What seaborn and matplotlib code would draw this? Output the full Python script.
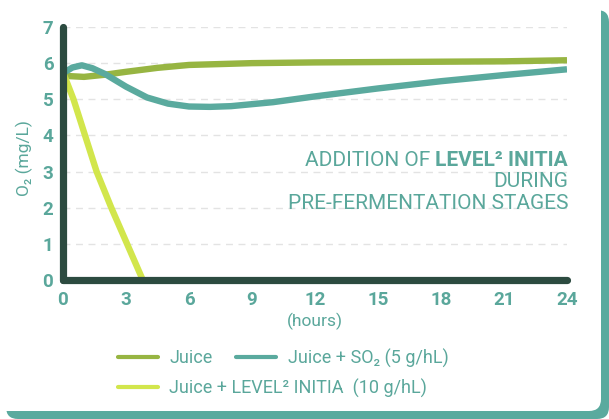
import numpy as np
import pandas as pd
import matplotlib
matplotlib.use("Agg")
import matplotlib.pyplot as plt
import matplotlib.transforms as mtransforms
from matplotlib.patches import FancyBboxPatch
from matplotlib.lines import Line2D
import seaborn as sns

# ---- data ----
juice_t = [0, 1, 2, 3, 4.5, 6, 9, 12, 15, 18, 21, 24]
juice_o2 = [5.65, 5.62, 5.68, 5.76, 5.87, 5.95, 6.0, 6.02, 6.03, 6.04, 6.05, 6.08]

so2_t = [0, 0.45, 0.9, 1.4, 2, 3, 4, 5, 6, 7, 8, 10, 12, 15, 18, 21, 24]
so2_o2 = [5.72, 5.88, 5.94, 5.86, 5.7, 5.35, 5.05, 4.88, 4.8, 4.79, 4.81, 4.92, 5.08, 5.3, 5.5, 5.67, 5.83]

initia_t = [0, 0.5, 1.05, 1.6, 2.3, 3.05, 3.8]
initia_o2 = [5.75, 5.0, 4.0, 3.0, 2.0, 1.0, 0.0]

x_ticks = [0, 3, 6, 9, 12, 15, 18, 21, 24]
y_ticks = [0, 1, 2, 3, 4, 5, 6, 7]

labels = ["Juice", "Juice + SO\u2082 (5 g/hL)", "Juice + LEVEL\u00b2 INITIA  (10 g/hL)"]

# ---- colours ----
olive = "#97b542"
teal = "#5aaa9e"
yellow = "#d2e64c"
dark = "#2c4b40"
txt = "#5aa79b"

sns.set_theme(style="white")
plt.rcParams["font.family"] = ["Roboto", "DejaVu Sans"]

fig = plt.figure(figsize=(6.09, 4.19), dpi=100)
fig.patch.set_facecolor("white")

# card with teal "shadow" on the right/bottom
ident = mtransforms.IdentityTransform()
fig.patches.append(FancyBboxPatch((6, 0), 603, 409, boxstyle="round,pad=0,rounding_size=12",
                                  transform=ident, facecolor=teal, edgecolor="none", zorder=-2))
fig.patches.append(FancyBboxPatch((-20, 8), 621, 431, boxstyle="round,pad=0,rounding_size=12",
                                  transform=ident, facecolor="white", edgecolor="none", zorder=-1))

ax = fig.add_axes([63 / 609, 1 - 280 / 419, (567 - 63) / 609, (280 - 27) / 419])
ax.set_facecolor("none")

lw = 4.6
sns.lineplot(x=juice_t, y=juice_o2, color=olive, linewidth=lw, ax=ax, solid_capstyle="butt")
sns.lineplot(x=so2_t, y=so2_o2, color=teal, linewidth=lw, ax=ax, solid_capstyle="butt")
sns.lineplot(x=initia_t, y=initia_o2, color=yellow, linewidth=lw, ax=ax, solid_capstyle="butt")

ax.set_xlim(0, 24)
ax.set_ylim(0, 7)
ax.set_xticks(x_ticks)
ax.set_yticks(y_ticks)
ax.set_xticklabels([str(v) for v in x_ticks])
ax.set_yticklabels([str(v) for v in y_ticks])
ax.tick_params(length=0, labelsize=13.5, labelcolor=txt)
ax.tick_params(axis="x", pad=8)
ax.tick_params(axis="y", pad=7)
for lab in ax.get_xticklabels() + ax.get_yticklabels():
    lab.set_fontweight("bold")

for y in y_ticks[1:]:
    ax.axhline(y, color="#e3e3e3", linewidth=1, linestyle=(0, (5, 4)), zorder=0)

for side in ["top", "right"]:
    ax.spines[side].set_visible(False)
for side in ["left", "bottom"]:
    ax.spines[side].set_color(dark)
    ax.spines[side].set_linewidth(5.2)
    ax.spines[side].set_capstyle("round")
    ax.spines[side].set_zorder(3)

ax.set_xlabel("(hours)", fontsize=12.5, color=txt)
ax.set_ylabel("O\u2082 (mg/L)", fontsize=12.5, color=txt)
ax.xaxis.set_label_coords(0.5, -33 / 253)
ax.yaxis.set_label_coords(-30 / 504, 0.48)

# title text inside plot, right aligned
tx = 568
tsize = 15
bold = fig.text(tx, 419 - 160, "LEVEL\u00b2 INITIA", transform=ident, ha="right", va="center",
                fontsize=tsize, fontweight="bold", color=txt)
fig.canvas.draw()
bb = bold.get_window_extent()
fig.text(bb.x0 - 5, 419 - 160, "ADDITION OF", transform=ident, ha="right", va="center",
         fontsize=tsize, color=txt)
fig.text(tx, 419 - 181, "DURING", transform=ident, ha="right", va="center", fontsize=tsize, color=txt)
fig.text(tx, 419 - 203, "PRE-FERMENTATION STAGES", transform=ident, ha="right", va="center",
         fontsize=tsize, color=txt)

# legend: two rows
h_juice = Line2D([], [], color=olive, linewidth=3)
h_so2 = Line2D([], [], color=teal, linewidth=3)
h_initia = Line2D([], [], color=yellow, linewidth=3)
common = dict(frameon=False, fontsize=13, labelcolor=txt, handlelength=2.2, handletextpad=0.65,
              borderpad=0, borderaxespad=0, loc="center left")
fig.legend([h_juice, h_so2], labels[:2], ncol=2, columnspacing=1.3,
           bbox_to_anchor=(118 / 609, 1 - 358 / 419), **common)
fig.legend([h_initia], labels[2:], bbox_to_anchor=(118 / 609, 1 - 388 / 419), **common)

fig.savefig("out.png", dpi=100, facecolor="white")
